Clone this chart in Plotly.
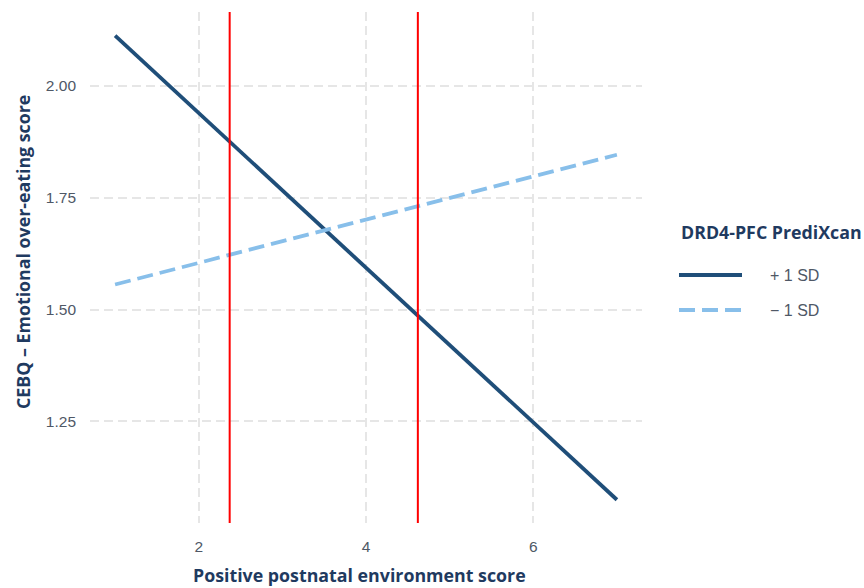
import plotly.graph_objects as go

# Simple slopes of emotional over-eating on postnatal environment
env_score = [1, 7]
high_sd = [2.112, 1.075]   # DRD4-PFC PrediXcan +1 SD
low_sd = [1.556, 1.846]    # DRD4-PFC PrediXcan -1 SD
series_names = ["+ 1 SD", "\u2212 1 SD"]
region_bounds = [2.37, 4.62]  # region-of-significance boundaries

x_ticks = [2, 4, 6]
y_ticks = [1.25, 1.50, 1.75, 2.00]
y_tick_text = ["1.25", "1.50", "1.75", "2.00"]

NAVY = "#1f3a60"
DARK = "#1f4e79"
LIGHT = "#88bfea"
TICK = "#4f5866"
TITLE_FONT = "Open Sans"
TITLE_SIZE = 17.8

# panel geometry in pixels (used to place the key and titles)
L, R, T, B = 90, 642, 12, 523
PW, PH = R - L, B - T


def px_x(x):
    return (x - L) / PW


def px_y(y):
    return (B - y) / PH


fig = go.Figure()
fig.add_trace(go.Scatter(x=env_score, y=high_sd, mode="lines", name=series_names[0],
                         line=dict(color=DARK, width=3.8), showlegend=False))
fig.add_trace(go.Scatter(x=env_score, y=low_sd, mode="lines", name=series_names[1],
                         line=dict(color=LIGHT, width=3.8, dash="16px,7px"), showlegend=False))

for xb in region_bounds:
    fig.add_shape(type="line", x0=xb, x1=xb, y0=0, y1=1, xref="x", yref="paper",
                  line=dict(color="#ff0000", width=2))

# Axis titles
fig.add_annotation(text="<b>Positive postnatal environment score</b>", xref="paper", yref="paper",
                   x=px_x(359), y=px_y(575), xanchor="center", yanchor="middle", showarrow=False,
                   font=dict(family=TITLE_FONT, size=TITLE_SIZE, color=NAVY))
fig.add_annotation(text="<b>CEBQ \u2013 Emotional over-eating score</b>", xref="paper", yref="paper",
                   x=px_x(23), y=px_y(252), xanchor="center", yanchor="middle", showarrow=False,
                   textangle=-90, font=dict(family=TITLE_FONT, size=TITLE_SIZE, color=NAVY))

# Legend drawn as a small key to the right of the panel
fig.add_annotation(text="<b>DRD4-PFC PrediXcan</b>", xref="paper", yref="paper",
                   x=px_x(679), y=px_y(232), xanchor="left", yanchor="middle",
                   showarrow=False, font=dict(family=TITLE_FONT, size=TITLE_SIZE, color=NAVY))
key_rows = [(275, DARK, "solid", series_names[0]), (310, LIGHT, "16px,7px", series_names[1])]
for ypx, col, dash, label in key_rows:
    yp = px_y(ypx)
    fig.add_shape(type="line", xref="paper", yref="paper",
                  x0=px_x(679), x1=px_x(742), y0=yp, y1=yp,
                  line=dict(color=col, width=3.8, dash=dash))
    fig.add_annotation(text=label, xref="paper", yref="paper",
                       x=px_x(768), y=yp, xanchor="left", yanchor="middle",
                       showarrow=False, font=dict(family="Liberation Sans", size=16, color=TICK))

fig.update_layout(
    width=864, height=588,
    margin=dict(l=L, r=864 - R, t=T, b=588 - B),
    paper_bgcolor="white", plot_bgcolor="white",
    xaxis=dict(range=[0.7, 7.3], tickvals=x_ticks, showline=False, zeroline=False,
               showgrid=True, gridcolor="#e6e6e6", gridwidth=1.6, griddash="9px,5px",
               ticks="", ticklabelstandoff=12,
               tickfont=dict(family="Liberation Sans", size=15.5, color=TICK)),
    yaxis=dict(range=[1.023, 2.165], tickvals=y_ticks, ticktext=y_tick_text,
               showline=False, zeroline=False,
               showgrid=True, gridcolor="#e6e6e6", gridwidth=1.6, griddash="9px,5px",
               ticks="", ticklabelstandoff=13,
               tickfont=dict(family="Liberation Sans", size=15.5, color=TICK)),
)

fig.write_html("out.html")
